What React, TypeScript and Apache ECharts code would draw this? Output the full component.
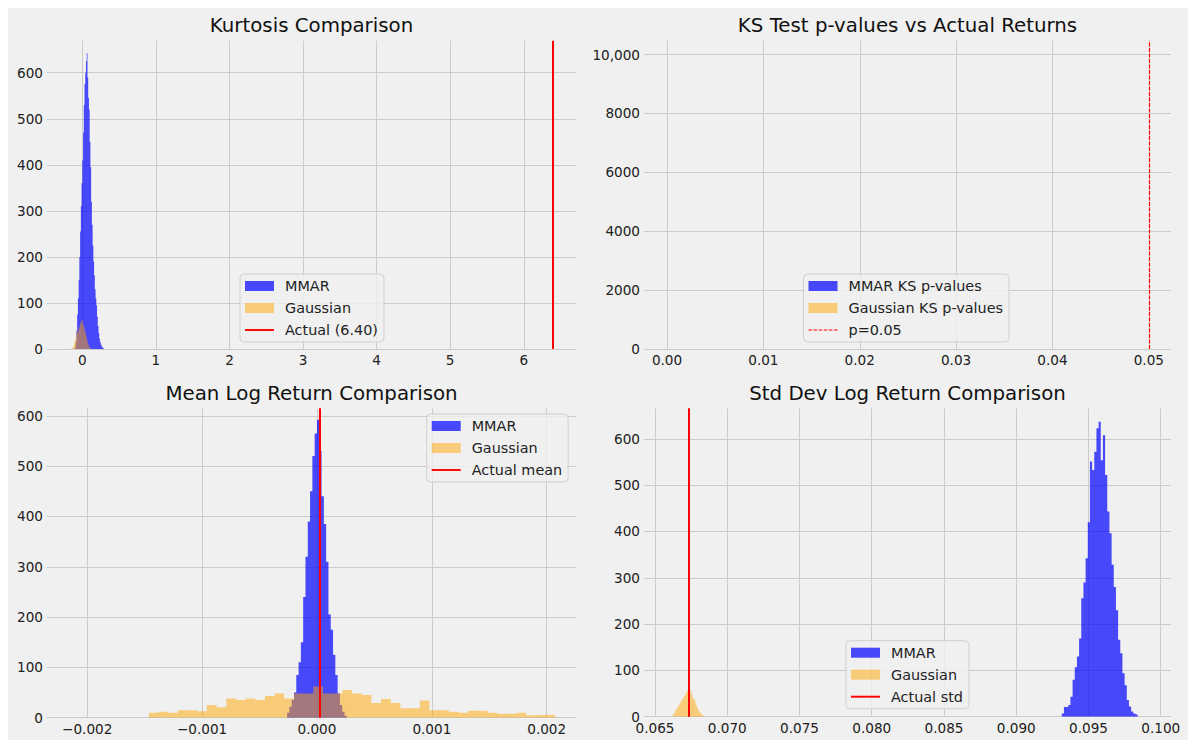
import * as echarts from "echarts";
import React, { useEffect, useRef } from "react";

const FONT = "DejaVu Sans";

// Kurtosis: histogram bins (start, width, counts)
const kurtMmarStart = -0.1;
const kurtMmarWidth = 0.01;
const kurtMmarCounts = [
  4, 15, 40, 75, 110, 150, 200, 255, 310, 360, 410, 470, 530, 575, 600, 625, 642, 590, 545, 520,
  450, 395, 320, 270, 225, 190, 160, 130, 110, 95, 70, 50, 35, 22, 15, 10, 6, 4, 2,
];
const kurtGaussStart = -0.15;
const kurtGaussWidth = 0.01;
const kurtGaussCounts = [
  1, 2, 4, 8, 14, 20, 27, 34, 40, 38, 45, 50, 55, 58, 63, 60, 52, 47, 40, 35, 28, 20, 14, 9, 5, 2,
];
const actualKurtosis = 6.4;

// KS test p-values: every value falls outside the shown range, so the bars are empty
const ksMmarPValues: number[][] = [];
const ksGaussPValues: number[][] = [];
const ksThreshold = 0.05;

// Mean log return
const meanMmarStart = -0.00026;
const meanMmarWidth = 0.00002;
const meanMmarCounts = [
  10, 22, 35, 50, 85, 110, 150, 240, 320, 390, 450, 520, 565, 592, 530, 440, 385, 310, 205, 175,
  125, 85, 48, 25, 12, 4,
];
const meanGaussStart = -0.001463;
const meanGaussWidth = 0.0000842;
const meanGaussCounts = [
  10, 12, 10, 15, 15, 13, 25, 21, 38, 35, 38, 35, 43, 48, 38, 48, 48, 62, 48, 48, 55, 48, 45, 29,
  37, 29, 19, 19, 34, 15, 15, 12, 10, 14, 14, 10, 8, 8, 10, 5, 6, 5,
];
const actualMean = 0.00002;

// Std dev log return
const stdMmarStart = 0.09315;
const stdMmarWidth = 0.00015;
const stdMmarCounts = [
  7, 21, 21, 25, 43, 80, 107, 130, 169, 256, 290, 342, 420, 551, 533, 572, 623, 637, 554, 608,
  522, 443, 396, 328, 280, 230, 166, 137, 94, 68, 36, 22, 11, 7, 5,
];
const stdGaussStart = 0.0662;
const stdGaussWidth = 0.0001;
const stdGaussCounts = [3, 8, 14, 18, 24, 30, 36, 40, 45, 50, 55, 61, 57, 48, 40, 36, 25, 18, 12, 8, 4, 2];
const actualStd = 0.06737;

const BLUE = "rgba(0,0,255,0.7)";
const ORANGE = "rgba(255,165,0,0.5)";
const GRID = "#cbcbcb";

const fmt = (step: number, digits: number, commas = false) => (v: number) => {
  const k = v / step;
  if (Math.abs(k - Math.round(k)) > 1e-6) return "";
  const r = Math.round(k) * step;
  if (Math.abs(r) < step * 1e-6) return (0).toFixed(digits);
  let s = Math.abs(r).toFixed(digits);
  if (commas && Math.abs(r) >= 10000) s = s.replace(/\B(?=(\d{3})+(?!\d))/g, ",");
  return (r < 0 ? "\u2212" : "") + s;
};

const axisText = { color: "#222", fontSize: 13.6, fontFamily: FONT };

const xAxis = (gridIndex: number, min: number, max: number, step: number, digits: number) => ({
  type: "value",
  gridIndex,
  min,
  max,
  minInterval: step,
  maxInterval: step,
  axisLine: { show: false },
  axisTick: { show: false },
  axisLabel: { ...axisText, margin: 4, formatter: fmt(step, digits) },
  splitLine: { show: true, showMinLine: false, showMaxLine: false, lineStyle: { color: GRID, width: 1 } },
});

const yAxis = (gridIndex: number, max: number, step: number, commas = false) => ({
  type: "value",
  gridIndex,
  min: 0,
  max,
  minInterval: step,
  maxInterval: step,
  axisLine: { show: false },
  axisTick: { show: false },
  axisLabel: { ...axisText, margin: 4, formatter: fmt(step, 0, commas) },
  splitLine: { show: true, showMaxLine: false, lineStyle: { color: GRID, width: 1 } },
});

const hist = (name: string, idx: number, start: number, width: number, counts: number[], color: string) => ({
  type: "line",
  name,
  xAxisIndex: idx,
  yAxisIndex: idx,
  step: "end",
  symbol: "none",
  silent: true,
  data: counts.length
    ? [...counts.map((c, i) => [start + i * width, c]), [start + counts.length * width, 0]]
    : [],
  lineStyle: { width: 0, opacity: 0 },
  areaStyle: { color, opacity: 1 },
  itemStyle: { color },
});

const vline = (name: string, idx: number, value: number, width: number, type: any) => ({
  type: "line",
  name,
  xAxisIndex: idx,
  yAxisIndex: idx,
  data: [],
  itemStyle: { color: "red" },
  markLine: {
    silent: true,
    precision: 8,
    symbol: ["none", "none"],
    label: { show: false },
    lineStyle: { color: "#ff0000", width, type },
    data: [{ xAxis: value }],
  },
});

const lineIcon = "path://M0,0H30V2H0Z";
const dashIcon =
  "path://M0,0H3.5V1H0Z M5,0H8.5V1H5Z M10,0H13.5V1H10Z M15,0H18.5V1H15Z M20,0H23.5V1H20Z M25,0H28.5V1H25Z";

const legend = (left: number, top: number, names: string[], third: string, dashed = false) => ({
  orient: "vertical",
  left,
  top,
  itemWidth: 29,
  itemHeight: 10,
  itemGap: 6,
  padding: [4, 6, 4, 5],
  backgroundColor: "rgba(240,240,240,0.8)",
  borderColor: "#d0d0d0",
  borderWidth: 1,
  borderRadius: 4,
  selectedMode: false,
  textStyle: { ...axisText, fontSize: 14.4, lineHeight: 16, padding: [0, 0, 0, 6] },
  data: [
    { name: names[0], icon: "rect", itemStyle: { color: BLUE, borderWidth: 0 } },
    { name: names[1], icon: "rect", itemStyle: { color: ORANGE, borderWidth: 0 } },
    { name: third, icon: dashed ? dashIcon : lineIcon, itemStyle: { color: "red", borderWidth: 0 } },
  ],
});

const title = (x: number, y: number, text: string) => ({
  type: "text",
  x,
  y,
  silent: true,
  style: { text, fill: "#111", font: `19.8px '${FONT}'`, align: "center", verticalAlign: "middle" },
});

const App: React.FC = () => {
  const chartRef = useRef<HTMLDivElement>(null);

  useEffect(() => {
    if (!chartRef.current) return;
    const chart = echarts.init(chartRef.current, undefined, { renderer: "svg" });

    const option = {
      animation: false,
      backgroundColor: "#f0f0f0",
      textStyle: { fontFamily: FONT },
      grid: [
        { left: 39, top: 32.7, width: 529, height: 308.3 },
        { left: 636, top: 32.7, width: 527, height: 308.3 },
        { left: 39, top: 400.3, width: 529, height: 309.4 },
        { left: 636, top: 400.3, width: 527, height: 308.4 },
      ],
      xAxis: [
        xAxis(0, -0.48, 6.71, 1, 0),
        xAxis(1, -0.00239, 0.0523, 0.01, 2),
        xAxis(2, -0.00235, 0.002255, 0.001, 3),
        xAxis(3, 0.06424, 0.10071, 0.005, 3),
      ],
      yAxis: [yAxis(0, 669.5, 100), yAxis(1, 10470, 2000, true), yAxis(2, 615, 100), yAxis(3, 666, 100)],
      legend: [
        legend(232, 266, ["MMAR", "Gaussian"], "Actual (6.40)"),
        legend(795.5, 266, ["MMAR KS p-values", "Gaussian KS p-values"], "p=0.05", true),
        legend(418.7, 406, ["MMAR", "Gaussian"], "Actual mean"),
        legend(838, 632.7, ["MMAR", "Gaussian"], "Actual std"),
      ],
      graphic: [
        title(303.5, 17.3, "Kurtosis Comparison"),
        title(899.5, 17.3, "KS Test p-values vs Actual Returns"),
        title(303.5, 385.3, "Mean Log Return Comparison"),
        title(899.5, 385.3, "Std Dev Log Return Comparison"),
      ],
      series: [
        hist("MMAR", 0, kurtMmarStart, kurtMmarWidth, kurtMmarCounts, BLUE),
        hist("Gaussian", 0, kurtGaussStart, kurtGaussWidth, kurtGaussCounts, ORANGE),
        vline("Actual (6.40)", 0, actualKurtosis, 2, "solid"),

        { ...hist("MMAR KS p-values", 1, 0, 0, [], BLUE), data: ksMmarPValues },
        { ...hist("Gaussian KS p-values", 1, 0, 0, [], ORANGE), data: ksGaussPValues },
        vline("p=0.05", 1, ksThreshold, 1.2, [4, 1.5]),

        hist("MMAR", 2, meanMmarStart, meanMmarWidth, meanMmarCounts, BLUE),
        hist("Gaussian", 2, meanGaussStart, meanGaussWidth, meanGaussCounts, ORANGE),
        vline("Actual mean", 2, actualMean, 2, "solid"),

        hist("MMAR", 3, stdMmarStart, stdMmarWidth, stdMmarCounts, BLUE),
        hist("Gaussian", 3, stdGaussStart, stdGaussWidth, stdGaussCounts, ORANGE),
        vline("Actual std", 3, actualStd, 2, "solid"),
      ],
    };

    chart.setOption(option as any);
    return () => {
      chart.dispose();
    };
  }, []);

  return <div ref={chartRef} style={{ width: 1180, height: 732, background: "#f0f0f0" }}></div>;
};

export default App;
